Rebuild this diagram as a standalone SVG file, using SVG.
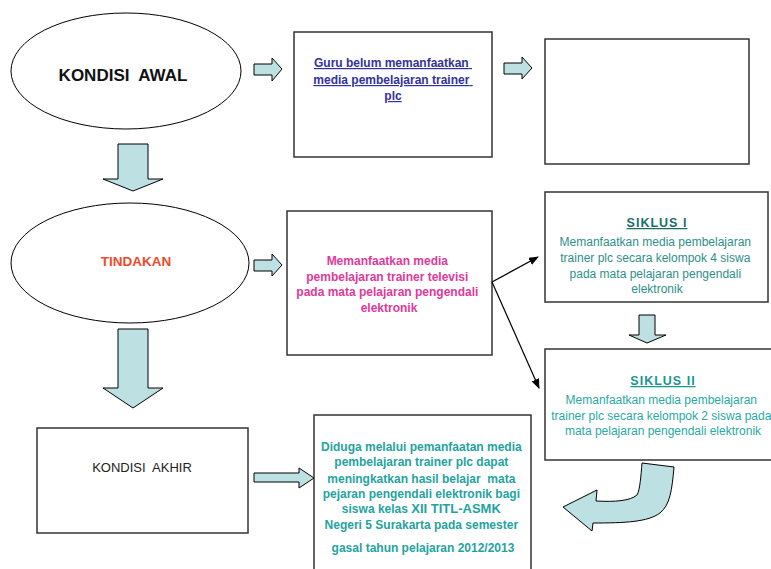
<svg xmlns="http://www.w3.org/2000/svg" width="771" height="569" viewBox="0 0 771 569">
<style>
.shape{fill:#fff;stroke:#000;stroke-width:1}
.box{fill:#fff;stroke:#333;stroke-width:1.5}
.blk{fill:#bde0e3;stroke:#000;stroke-width:1}
.t{font-family:"Liberation Sans",Arial,sans-serif;text-anchor:middle}
.line{stroke:#000;stroke-width:1.2;fill:none}
</style>
<defs>
<marker id="ah" markerWidth="10" markerHeight="8" refX="9" refY="4" orient="auto" markerUnits="userSpaceOnUse">
<path d="M0,0 L10,4 L0,8 Z" fill="#000"/>
</marker>
</defs>
<rect width="771" height="569" fill="#fff"/>

<g id="kondisi-awal">
<ellipse class="shape" cx="126" cy="71" rx="115" ry="58"/>
<text class="t" x="123" y="81" font-size="17" font-weight="bold" fill="#111">KONDISI&#160; AWAL</text>
</g>

<g id="guru">
<rect class="box" x="294" y="32" width="198" height="125"/>
<text class="t" font-size="12" font-weight="bold" fill="#33339a" text-decoration="underline">
<tspan x="393" y="67">Guru belum memanfaatkan</tspan>
<tspan x="393" y="84">media pembelajaran trainer</tspan>
<tspan x="393" y="100">plc</tspan>
</text>
</g>

<g id="kosong">
<rect class="box" x="545" y="39" width="204" height="125"/>
</g>

<g id="tindakan">
<ellipse class="shape" cx="130" cy="263" rx="119" ry="60"/>
<text class="t" x="136" y="266" font-size="13.5" font-weight="bold" fill="#f04a2a">TINDAKAN</text>
</g>

<g id="memanfaatkan">
<rect class="box" x="287" y="211" width="205" height="144"/>
<text class="t" font-size="12" font-weight="bold" fill="#e0399a">
<tspan x="389" y="265">Memanfaatkan media</tspan>
<tspan x="389" y="281">pembelajaran trainer televisi</tspan>
<tspan x="389" y="296">pada mata pelajaran pengendali</tspan>
<tspan x="389" y="312">elektronik</tspan>
</text>
</g>

<g id="siklus1">
<rect class="box" x="545" y="192" width="223" height="110"/>
<text class="t" x="657" y="227" font-size="12.5" font-weight="bold" fill="#1a6e6a" text-decoration="underline" letter-spacing="1">SIKLUS I</text>
<text class="t" font-size="12" fill="#2e8f8a">
<tspan x="657" y="246">Memanfaatkan media pembelajaran</tspan>
<tspan x="657" y="262">trainer plc secara kelompok 4 siswa</tspan>
<tspan x="657" y="278">pada mata pelajaran pengendali</tspan>
<tspan x="657" y="293">elektronik</tspan>
</text>
</g>

<g id="siklus2">
<rect class="box" x="545" y="349" width="230" height="111"/>
<text class="t" x="663" y="385" font-size="12.5" font-weight="bold" fill="#1a9590" text-decoration="underline" letter-spacing="1">SIKLUS II</text>
<text class="t" font-size="12" fill="#2aa9a3">
<tspan x="663" y="404">Memanfaatkan media pembelajaran</tspan>
<tspan x="663" y="420">trainer plc secara kelompok 2 siswa pada</tspan>
<tspan x="663" y="435">mata pelajaran pengendali elektronik</tspan>
</text>
</g>

<g id="kondisi-akhir">
<rect class="box" x="37" y="428" width="211" height="105"/>
<text class="t" x="142" y="472" font-size="13" fill="#222">KONDISI&#160; AKHIR</text>
</g>

<g id="hipotesis">
<rect class="box" x="314" y="415" width="217" height="160"/>
<text class="t" font-size="12" font-weight="bold" fill="#1fa3a0">
<tspan x="423" y="451">Diduga melalui pemanfaatan media</tspan>
<tspan x="423" y="466">pembelajaran trainer plc dapat</tspan>
<tspan x="423" y="483">meningkatkan hasil belajar&#160; mata</tspan>
<tspan x="423" y="498">pejaran pengendali elektronik bagi</tspan>
<tspan x="423" y="513">siswa kelas <tspan font-size="13">XII TITL-ASMK</tspan></tspan>
<tspan x="423" y="529">Negeri 5 Surakarta pada semester</tspan>
<tspan x="423" y="552">gasal tahun pelajaran 2012/2013</tspan>
</text>
</g>

<g id="connectors">
<path class="blk" d="M254,64 L272,64 L272,58 L282,69 L272,81 L272,75 L254,75 Z"/>
<path class="blk" d="M504,63 L522,63 L522,57 L532,68 L522,79 L522,74 L504,74 Z"/>
<path class="blk" d="M254,260 L272,260 L272,254 L282,265 L272,276 L272,271 L254,271 Z"/>
<path class="blk" d="M118,144 L148,144 L148,179 L163,179 L133,191 L103,179 L118,179 Z"/>
<path class="blk" d="M118,329 L148,329 L148,388 L163,388 L133,408 L103,388 L118,388 Z"/>
<path class="blk" d="M639,315 L655,315 L655,335 L666,335 L647,343 L629,335 L639,335 Z"/>
<path class="blk" d="M254,473 L299,473 L299,468 L314,478 L299,488 L299,482 L254,482 Z"/>
<path class="blk" d="M642,463 L674,467 C672,490 670,505 660,513 C648,522 625,523 593,523 L592,531 L563,507 L597,490 L596,501 C615,502 630,501 637,495 C640,490 641,475 642,463 Z"/>
<line class="line" x1="492" y1="282" x2="538" y2="257" marker-end="url(#ah)"/>
<line class="line" x1="492" y1="282" x2="539" y2="388" marker-end="url(#ah)"/>
</g>
</svg>
